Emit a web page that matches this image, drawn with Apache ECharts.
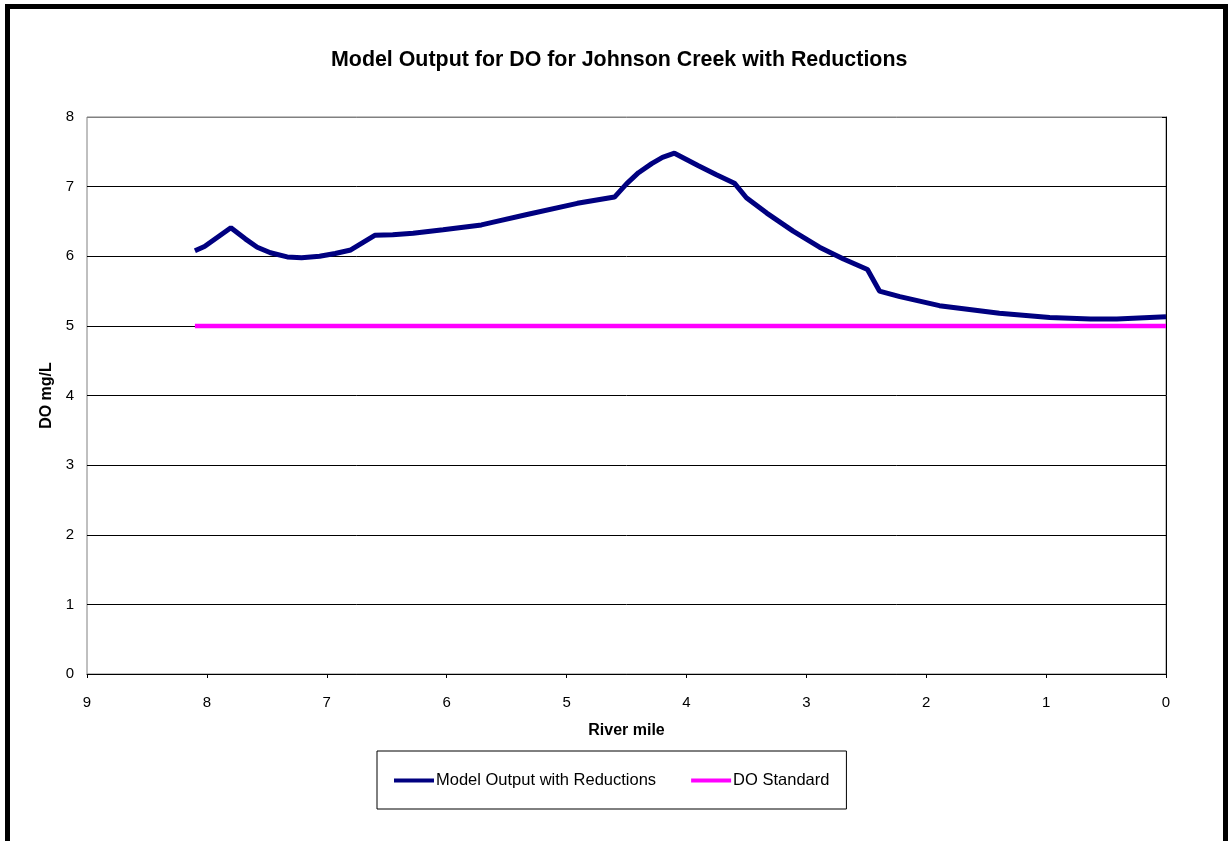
<!DOCTYPE html>
<html>
<head>
<meta charset="utf-8">
<script src="https://cdn.jsdelivr.net/npm/echarts@6/dist/echarts.min.js"></script>
<style>
  html, body { margin: 0; padding: 0; background: #fff; }
  #chart { width: 1229px; height: 841px; }
</style>
</head>
<body>
<div id="chart"></div>
<script>
// river mile (x) and modelled DO (mg/L)
var miles = [8.1, 8.02, 7.8, 7.68, 7.58, 7.47, 7.33, 7.21, 7.06, 6.93, 6.8, 6.6, 6.45, 6.28, 6.03, 5.71, 5.61, 5.33, 4.91, 4.6, 4.5, 4.4, 4.29, 4.2, 4.1, 3.9, 3.75, 3.6, 3.5, 3.33, 3.11, 2.89, 2.69, 2.49, 2.39, 2.22, 1.89, 1.39, 0.97, 0.63, 0.41, 0.0];
var doModel = [6.08, 6.14, 6.41, 6.25, 6.13, 6.05, 5.99, 5.98, 6.0, 6.04, 6.09, 6.3, 6.31, 6.33, 6.38, 6.45, 6.49, 6.6, 6.76, 6.85, 7.04, 7.2, 7.33, 7.42, 7.48, 7.3, 7.17, 7.05, 6.84, 6.62, 6.36, 6.13, 5.96, 5.81, 5.5, 5.42, 5.29, 5.18, 5.12, 5.1, 5.1, 5.13];
var stdMiles = [8.1, 0];
var stdValues = [5, 5];
var xTicks = ['0', '1', '2', '3', '4', '5', '6', '7', '8', '9'];

function pairs(xs, ys) {
  return xs.map(function (x, i) { return [x, ys[i]]; });
}

var chart = echarts.init(document.getElementById('chart'));
var font = 'Arial, "Liberation Sans", sans-serif';

var option = {
  animation: false,
  backgroundColor: '#fff',
  title: {
    text: 'Model Output for DO for Johnson Creek with Reductions',
    left: 326,
    top: 45,
    textStyle: { fontFamily: font, fontSize: 21.4, fontWeight: 'bold', color: '#000' }
  },
  graphic: [
    {
      type: 'rect',
      shape: { x: 7.5, y: 6.5, width: 1218, height: 900 },
      style: { fill: 'none', stroke: '#000', lineWidth: 5 },
      z: 100
    }
  ],
  grid: {
    left: 87, right: 63, top: 117, bottom: 167,
    show: true, borderColor: '#808080', borderWidth: 1
  },
  legend: {
    left: 377, top: 751,
    padding: [21, 17, 20, 17],
    borderColor: '#000', borderWidth: 1,
    itemWidth: 40, itemHeight: 4, itemGap: 35,
    textStyle: { fontFamily: font, fontSize: 16.5, color: '#000', padding: [0, 0, 0, -3] },
    data: [
      { name: 'Model Output with Reductions', icon: 'rect' },
      { name: 'DO Standard', icon: 'rect' }
    ]
  },
  xAxis: {
    type: 'value', min: 0, max: 9, interval: 1, inverse: true,
    name: 'River mile', nameLocation: 'middle', nameGap: 49,
    nameTextStyle: { fontFamily: font, fontSize: 16, fontWeight: 'bold', color: '#000' },
    axisLine: { lineStyle: { color: '#000', width: 1 } },
    axisTick: { show: true, length: 4, lineStyle: { color: '#000' } },
    axisLabel: {
      margin: 21, fontFamily: font, fontSize: 15, color: '#000',
      formatter: function (v) { return xTicks[v]; }
    },
    splitLine: { show: false }
  },
  yAxis: {
    type: 'value', min: 0, max: 8, interval: 1,
    name: 'DO mg/L', nameLocation: 'middle', nameGap: 31,
    nameTextStyle: { fontFamily: font, fontSize: 16, fontWeight: 'bold', color: '#000' },
    axisLine: { show: true, lineStyle: { color: '#000', width: 1 } },
    axisTick: { show: true, length: 4, lineStyle: { color: '#000' } },
    axisLabel: { margin: 13, fontFamily: font, fontSize: 15, color: '#000' },
    splitLine: {
      show: true,
      lineStyle: { color: ['#000', '#000', '#000', '#000', '#000', '#000', '#000', '#000', '#808080'], width: 1 }
    }
  },
  series: [
    {
      name: 'Model Output with Reductions',
      type: 'line',
      data: pairs(miles, doModel),
      showSymbol: false,
      symbol: 'none',
      color: '#000080',
      lineStyle: { color: '#000080', width: 5 },
      z: 3
    },
    {
      name: 'DO Standard',
      type: 'line',
      data: pairs(stdMiles, stdValues),
      showSymbol: false,
      symbol: 'none',
      color: '#ff00ff',
      lineStyle: { color: '#ff00ff', width: 4.5 },
      z: 2
    }
  ]
};

chart.setOption(option);
</script>
</body>
</html>
